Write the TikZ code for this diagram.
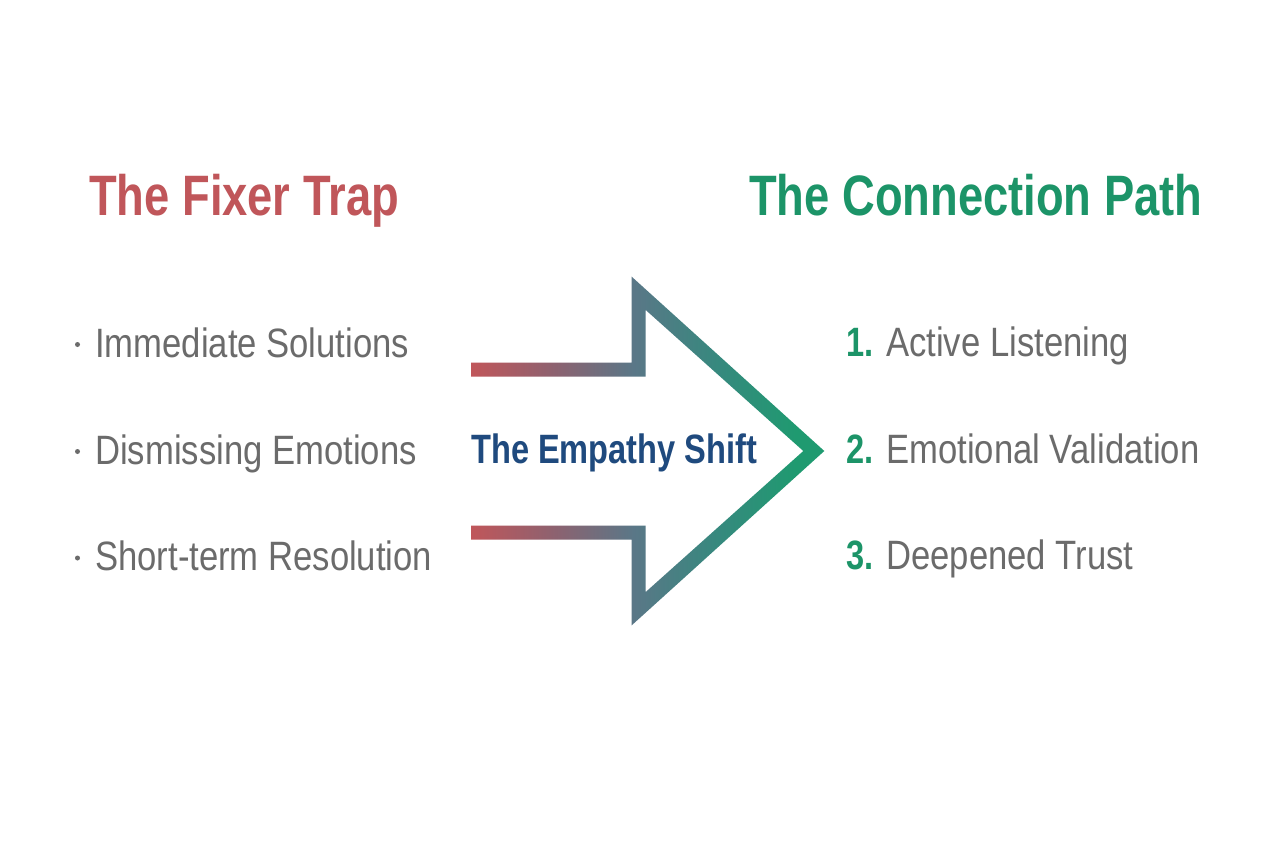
\documentclass[tikz,border=0pt]{standalone}
\usepackage{fontspec}
\newfontfamily\condfont{Liberation Sans}[FakeStretch=0.845]
\newfontfamily\condbold{Liberation Sans Bold}[FakeStretch=0.795]
\definecolor{fxred}{HTML}{C0565A}
\definecolor{fxmauve}{HTML}{8C6270}
\definecolor{fxslate}{HTML}{5A7787}
\definecolor{fxteal}{HTML}{36897E}
\definecolor{cpgreen}{HTML}{1C9468}
\definecolor{arrgreen}{HTML}{1F9A70}
\definecolor{txtgray}{HTML}{6B6B6B}
\definecolor{empblue}{HTML}{1F4A7E}
\pgfdeclarehorizontalshading{empgrad}{100bp}{color(0bp)=(fxred); color(25bp)=(fxred); color(37bp)=(fxmauve); color(48bp)=(fxslate); color(60bp)=(fxteal); color(71bp)=(arrgreen); color(100bp)=(arrgreen)}
\begin{document}
\begin{tikzpicture}[x=1pt,y=-1pt,
  titlestyle/.style={anchor=base west, inner sep=0pt, font=\condbold\fontsize{57}{60}\selectfont},
  itemstyle/.style={anchor=base west, inner sep=0pt, text=txtgray, font=\condfont\fontsize{41}{44}\selectfont},
  numstyle/.style={anchor=base west, inner sep=0pt, text=cpgreen, font=\condbold\fontsize{41}{44}\selectfont},
  bulletstyle/.style={circle, fill=txtgray, inner sep=0pt, minimum size=5pt}]
\useasboundingbox[fill=white] (0,0) rectangle (1264,848);

% titles
\node[titlestyle, text=fxred] (fixer) at (89,215) {The Fixer Trap};
\node[titlestyle, text=cpgreen] (conn) at (749,215) {The Connection Path};

% left items
\node[bulletstyle] (b1) at (77.5,344.5) {};
\node[itemstyle] (l1) at (95,357) {Immediate Solutions};
\node[bulletstyle] (b2) at (77.5,451.5) {};
\node[itemstyle] (l2) at (95,464) {Dismissing Emotions};
\node[bulletstyle] (b3) at (77.5,558) {};
\node[itemstyle] (l3) at (95,570) {Short-term Resolution};

% right items
\node[numstyle] (n1) at (846,356) {1.};
\node[itemstyle] (r1) at (886,356) {Active Listening};
\node[numstyle] (n2) at (846,463) {2.};
\node[itemstyle] (r2) at (886,463) {Emotional Validation};
\node[numstyle] (n3) at (846,569) {3.};
\node[itemstyle] (r3) at (886,569) {Deepened Trust};

% outline arrow with gradient
\shade[shading=empgrad]
  (471,362.5) -- (631.7,362.5) -- (631.7,276.7) -- (824.3,451) -- (631.7,625.3)
  -- (631.7,539.5) -- (471,539.5) -- (471,525.5) -- (645.7,525.5) -- (645.7,592)
  -- (803.3,451) -- (645.7,310) -- (645.7,376.5) -- (471,376.5) -- cycle;

\node[anchor=base west, inner sep=0pt, text=empblue, font=\condbold\fontsize{41}{44}\selectfont] (shift) at (471,463) {The Empathy Shift};
\end{tikzpicture}
\end{document}
